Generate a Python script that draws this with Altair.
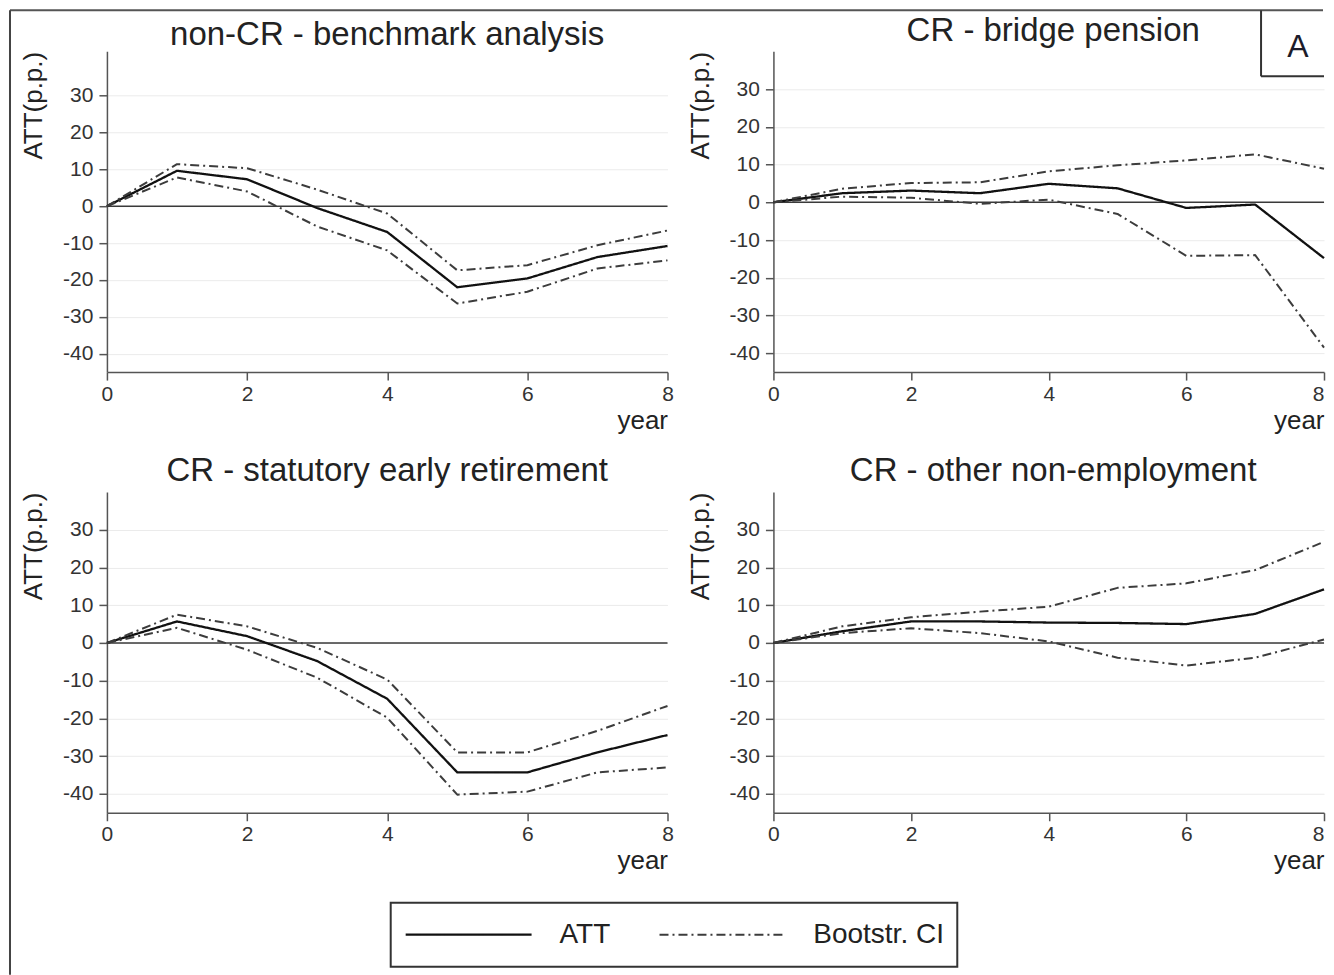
import altair as alt
import pandas as pd

# ---------------- data ----------------
years = [0, 1, 2, 3, 4, 5, 6, 7, 8]

titles = ["non-CR - benchmark analysis", "CR - bridge pension",
          "CR - statutory early retirement", "CR - other non-employment"]

bench_att = [0, 9.6, 7.3, -0.5, -7.0, -22.0, -19.6, -13.8, -10.8]
bench_hi = [0, 11.4, 10.3, 4.5, -2.0, -17.4, -16.0, -10.6, -6.6]
bench_lo = [0, 7.8, 4.0, -5.5, -12.0, -26.4, -23.2, -16.9, -14.7]

bridge_att = [0, 2.4, 3.1, 2.4, 4.9, 3.7, -1.5, -0.6, -14.8]
bridge_hi = [0, 3.6, 5.1, 5.3, 8.2, 9.8, 11.1, 12.7, 8.9]
bridge_lo = [0, 1.5, 1.2, -0.4, 0.7, -3.1, -14.2, -14.0, -38.5]

stat_att = [0, 5.7, 1.8, -4.8, -14.8, -34.3, -34.3, -29.0, -24.4]
stat_hi = [0, 7.5, 4.4, -1.3, -9.7, -29.0, -29.0, -23.3, -16.7]
stat_lo = [0, 4.0, -1.8, -9.2, -19.8, -40.2, -39.4, -34.3, -33.0]

other_att = [0, 3.1, 5.7, 5.7, 5.4, 5.3, 5.0, 7.7, 14.2]
other_hi = [0, 4.4, 6.8, 8.3, 9.6, 14.6, 15.8, 19.3, 26.8]
other_lo = [0, 2.6, 3.9, 2.6, 0.4, -3.9, -6.0, -3.9, 0.9]

legend_labels = ["ATT", "Bootstr. CI"]
x_ticks = [0, 2, 4, 6, 8]
y_ticks = [30, 20, 10, 0, -10, -20, -30, -40]
corner_label = "A"

# ---------------- style ----------------
FONT = "Liberation Sans"
H = 321
WL = 561   # left column plot width
WR = 551   # right column plot width (page edge)
DASH = [9, 4, 2, 4]
dash_scale = alt.Scale(domain=legend_labels, range=[[1, 0], DASH])
color_scale = alt.Scale(domain=legend_labels, range=["#111111", "#3c3c3c"])
width_scale = alt.Scale(domain=legend_labels, range=[2.3, 2.0])


def panel(title, att, hi, lo, width, ydom, title_y, extra=(), independent=False, right=False):
    n = len(years)
    df = pd.DataFrame({
        "year": years * 3,
        "value": att + hi + lo,
        "series": ["att"] * n + ["hi"] * n + ["lo"] * n,
        "kind": [legend_labels[0]] * n + [legend_labels[1]] * (2 * n),
    })
    one = pd.DataFrame({"t": [title]})
    zero = alt.Chart(one).mark_rule(color="#3a3a3a", strokeWidth=1.5).encode(
        y=alt.datum(0))
    xaxis_kw = dict(values=x_ticks, title="year", titleAnchor="end", labelFlush=False,
                    grid=False, labelPadding=3, titlePadding=3)
    if right:
        xaxis_kw["labelAlign"] = {"condition": {"test": "datum.value == 8", "value": "right"},
                                  "value": "center"}
    lines = alt.Chart(df).mark_line(strokeJoin="round").encode(
        x=alt.X("year:Q",
                scale=alt.Scale(domain=[0, 8], nice=False, zero=False),
                axis=alt.Axis(**xaxis_kw)),
        y=alt.Y("value:Q",
                scale=alt.Scale(domain=ydom, nice=False, zero=False),
                axis=alt.Axis(values=y_ticks, title="ATT(p.p.)", titleAnchor="end",
                              grid=True, labelExpr="datum.value + ''",
                              labelPadding=6, titlePadding=16)),
        detail="series:N",
        strokeDash=alt.StrokeDash("kind:N", scale=dash_scale, legend=None),
        color=alt.Color("kind:N", scale=color_scale, legend=None),
        strokeWidth=alt.StrokeWidth("kind:N", scale=width_scale, legend=None),
    )
    ttl = alt.Chart(one).mark_text(font=FONT, fontSize=33, color="#222222",
                                   align="center", baseline="alphabetic").encode(
        x=alt.value(WL / 2 if not right else 280), y=alt.value(title_y), text="t:N")
    ch = alt.layer(zero, lines, ttl, *extra).properties(width=width, height=H)
    if independent:
        ch = ch.resolve_scale(x="independent")
    return ch


dummy = pd.DataFrame({"d": [0]})

# outer frame (decoration, in top-left panel coordinates)
frame_top = alt.Chart(dummy).mark_rule(color="#555555", strokeWidth=2).encode(
    x=alt.value(-97), x2=alt.value(1217), y=alt.value(-41))
frame_left = alt.Chart(dummy).mark_rule(color="#444444", strokeWidth=2).encode(
    x=alt.value(-97), y=alt.value(-41), y2=alt.value(924))

# corner box "A" (top-right panel coordinates)
box_left = alt.Chart(dummy).mark_rule(color="#333333", strokeWidth=2).encode(
    x=alt.value(488), y=alt.value(-41), y2=alt.value(25))
box_bottom = alt.Chart(dummy).mark_rule(color="#333333", strokeWidth=2).encode(
    x=alt.value(488), x2=alt.value(WR), y=alt.value(25))
box_text = alt.Chart(pd.DataFrame({"t": [corner_label]})).mark_text(
    font=FONT, fontSize=32, color="#1c1c2a", align="center", baseline="middle").encode(
    x=alt.value(525), y=alt.value(-4), text="t:N")

# legend (bottom-left panel coordinates)
leg_df = pd.DataFrame({"label": legend_labels})
leg_scale = alt.Scale(type="band", domain=legend_labels, range=[284, 851],
                      paddingInner=0, paddingOuter=0.116, align=0.254)
leg_box = alt.Chart(dummy).mark_rect(fillOpacity=0, stroke="#333333", strokeWidth=2).encode(
    x=alt.value(284), x2=alt.value(851), y=alt.value(411), y2=alt.value(475))
leg_lines = alt.Chart(leg_df).mark_rule().encode(
    x=alt.X("label:N", scale=leg_scale, axis=None, bandPosition=0),
    x2=alt.X2("label:N", bandPosition=0.496),
    y=alt.value(443),
    strokeDash=alt.StrokeDash("label:N", scale=dash_scale, legend=None),
    color=alt.Color("label:N", scale=color_scale, legend=None),
    strokeWidth=alt.StrokeWidth("label:N", scale=width_scale, legend=None),
)
leg_text = alt.Chart(leg_df).mark_text(font=FONT, fontSize=28, color="#222222",
                                       align="left", baseline="middle").encode(
    x=alt.X("label:N", scale=leg_scale, axis=None, bandPosition=0.606),
    y=alt.value(443),
    text="label:N",
)

tl = panel(titles[0], bench_att, bench_hi, bench_lo, WL, [-45, 42], -6,
           extra=(frame_top, frame_left))
tr = panel(titles[1], bridge_att, bridge_hi, bridge_lo, WR, [-45, 40], -10,
           extra=(box_left, box_bottom, box_text), right=True)
bl = panel(titles[2], stat_att, stat_hi, stat_lo, WL, [-45, 40], -11,
           extra=(leg_box, leg_lines, leg_text), independent=True)
br = panel(titles[3], other_att, other_hi, other_lo, WR, [-45, 40], -11, right=True)

chart = alt.concat(
    tl, tr, bl, br, columns=2,
    spacing={"row": 120, "column": 106}, bounds="flush",
).properties(
    padding={"left": 1, "top": 1, "right": 0, "bottom": 0},
    background="white",
).configure_view(
    stroke=None
).configure_axis(
    domainColor="#555555", domainWidth=1.5,
    tickColor="#555555", tickWidth=1.5, tickSize=8,
    labelFont=FONT, labelFontSize=21, labelColor="#333333",
    titleFont=FONT, titleFontSize=26, titleFontWeight="normal", titleColor="#222222",
    gridColor="#ebebeb", gridWidth=1,
)

chart.save("out.html", embed_options={"renderer": "svg", "actions": False})
